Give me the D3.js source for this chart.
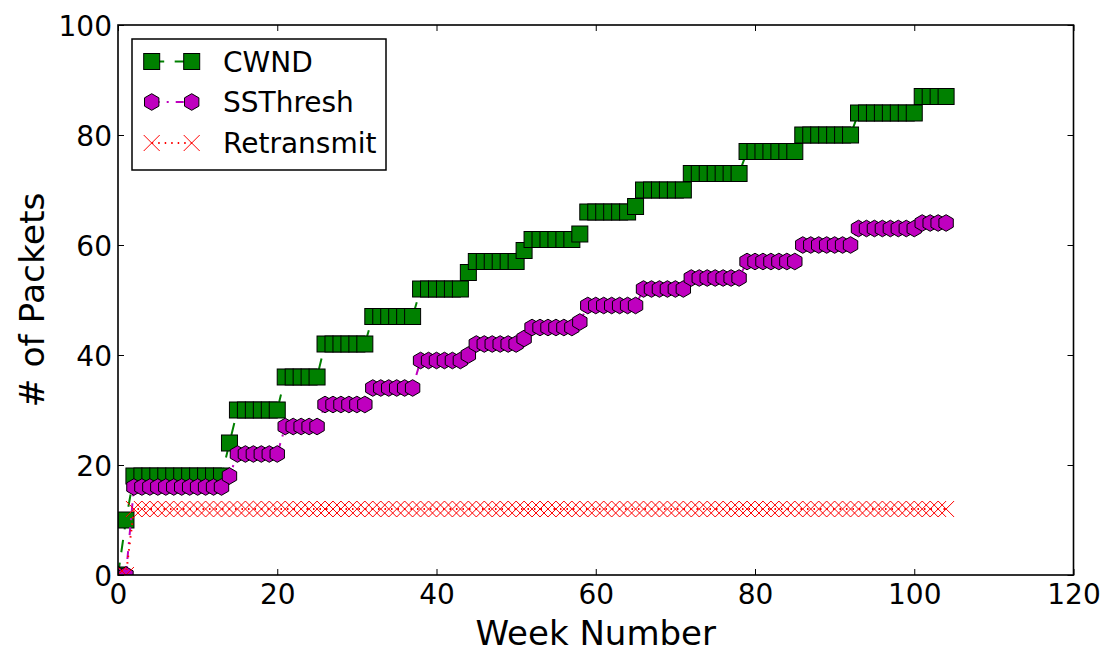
<!DOCTYPE html>
<html>
<head>
<meta charset="utf-8">
<script src="https://cdn.jsdelivr.net/npm/d3@7"></script>
<style>
  html, body { margin: 0; padding: 0; background: #fff; }
  svg { display: block; }
  text { font-family: "DejaVu Sans", sans-serif; fill: #000; }
</style>
</head>
<body>
<svg id="chart" width="1111" height="653"></svg>
<script>
// ---- data ----
const weeks = d3.range(0, 105);
const cwnd = [
  0, 10, 18, 18, 18, 18, 18, 18, 18, 18, 18, 18, 18, 18,
  24, 30, 30, 30, 30, 30, 30,
  36, 36, 36, 36, 36,
  42, 42, 42, 42, 42, 42,
  47, 47, 47, 47, 47, 47,
  52, 52, 52, 52, 52, 52,
  55, 57, 57, 57, 57, 57, 57,
  59, 61, 61, 61, 61, 61, 61,
  62, 66, 66, 66, 66, 66, 66,
  67, 70, 70, 70, 70, 70, 70,
  73, 73, 73, 73, 73, 73, 73,
  77, 77, 77, 77, 77, 77, 77,
  80, 80, 80, 80, 80, 80, 80,
  84, 84, 84, 84, 84, 84, 84, 84,
  87, 87, 87, 87
];
const ssthresh = [
  0, 0, 16, 16, 16, 16, 16, 16, 16, 16, 16, 16, 16, 16,
  18, 22, 22, 22, 22, 22, 22,
  27, 27, 27, 27, 27,
  31, 31, 31, 31, 31, 31,
  34, 34, 34, 34, 34, 34,
  39, 39, 39, 39, 39, 39,
  40, 42, 42, 42, 42, 42, 42,
  43, 45, 45, 45, 45, 45, 45,
  46, 49, 49, 49, 49, 49, 49, 49,
  52, 52, 52, 52, 52, 52,
  54, 54, 54, 54, 54, 54, 54,
  57, 57, 57, 57, 57, 57, 57,
  60, 60, 60, 60, 60, 60, 60,
  63, 63, 63, 63, 63, 63, 63, 63,
  64, 64, 64, 64
];
const retransmit = [
  0, 0,
  12, 12, 12, 12, 12, 12, 12, 12, 12, 12, 12, 12, 12, 12, 12, 12, 12, 12, 12, 12,
  12, 12, 12, 12, 12, 12, 12, 12, 12, 12, 12, 12, 12, 12, 12, 12, 12, 12, 12, 12,
  12, 12, 12, 12, 12, 12, 12, 12, 12, 12, 12, 12, 12, 12, 12, 12, 12, 12, 12, 12,
  12, 12, 12, 12, 12, 12, 12, 12, 12, 12, 12, 12, 12, 12, 12, 12, 12, 12, 12, 12,
  12, 12, 12, 12, 12, 12, 12, 12, 12, 12, 12, 12, 12, 12, 12, 12, 12, 12, 12, 12,
  12, 12, 12
];
const seriesNames = ["CWND", "SSThresh", "Retransmit"];
const xTicks = [0, 20, 40, 60, 80, 100, 120];
const yTicks = [0, 20, 40, 60, 80, 100];
const xLabel = "Week Number";
const yLabel = "# of Packets";

// ---- layout ----
const L = 118, R = 1073.5, T = 25, B = 575;
const svg = d3.select("#chart");
const x = d3.scaleLinear().domain([0, 120]).range([L, R]);
const y = d3.scaleLinear().domain([0, 100]).range([B, T]);

svg.append("defs").append("clipPath").attr("id", "plotclip")
  .append("rect").attr("x", L).attr("y", T).attr("width", R - L).attr("height", B - T);

const MS = 16;
const hexPath = (r) => {
  const c = Math.cos(Math.PI / 6) * r;
  return `M0,${-r}L${-c},${-r/2}L${-c},${r/2}L0,${r}L${c},${r/2}L${c},${-r/2}Z`;
};
const styles = [
  { color: "#008000", dash: "12.5,10.5", marker: "square" },
  { color: "#bf00bf", dash: "8,7,2,7", marker: "hex" },
  { color: "#ff0000", dash: "1.5,5", marker: "x" }
];

function drawMarker(g, kind, cx, cy, color) {
  if (kind === "square") {
    g.append("rect").attr("x", cx - MS/2).attr("y", cy - MS/2)
      .attr("width", MS).attr("height", MS)
      .attr("fill", color).attr("stroke", "#000").attr("stroke-width", 1);
  } else if (kind === "hex") {
    g.append("path").attr("d", hexPath(MS/2 + 0.3)).attr("transform", `translate(${cx},${cy})`)
      .attr("fill", color).attr("stroke", "#000").attr("stroke-width", 1);
  } else {
    const h = MS/2;
    g.append("path").attr("d", `M${-h},${-h}L${h},${h}M${-h},${h}L${h},${-h}`)
      .attr("transform", `translate(${cx},${cy})`)
      .attr("fill", "none").attr("stroke", color).attr("stroke-width", 1);
  }
}

const plot = svg.append("g").attr("clip-path", "url(#plotclip)");
const allSeries = [cwnd, ssthresh, retransmit];
allSeries.forEach((vals, i) => {
  const st = styles[i];
  const g = plot.append("g");
  const line = d3.line().x((d, j) => x(weeks[j])).y(d => y(d));
  g.append("path").datum(vals).attr("d", line)
    .attr("fill", "none").attr("stroke", st.color).attr("stroke-width", 2)
    .attr("stroke-dasharray", st.dash);
  vals.forEach((v, j) => drawMarker(g, st.marker, x(weeks[j]), y(v), st.color));
});

// ---- axes (ticks inward on all four sides) ----
const TS = 6;
const axB = svg.append("g").attr("transform", `translate(0,${B})`)
  .call(d3.axisBottom(x).tickValues(xTicks).tickSize(-TS).tickPadding(9).tickFormat(d3.format("d")));
const axT = svg.append("g").attr("transform", `translate(0,${T})`)
  .call(d3.axisTop(x).tickValues(xTicks).tickSize(-TS).tickFormat(""));
const axLft = svg.append("g").attr("transform", `translate(${L},0)`)
  .call(d3.axisLeft(y).tickValues(yTicks).tickSize(-TS).tickPadding(6).tickFormat(d3.format("d")));
const axRt = svg.append("g").attr("transform", `translate(${R},0)`)
  .call(d3.axisRight(y).tickValues(yTicks).tickSize(-TS).tickFormat(""));
[axB, axT, axLft, axRt].forEach(a => {
  a.select(".domain").remove();
  a.selectAll(".tick line").attr("stroke", "#000").attr("stroke-width", 1);
  a.selectAll(".tick text").style("font-family", "DejaVu Sans").attr("font-size", 28).attr("fill", "#000");
});
axB.selectAll(".tick text").attr("dy", "0.71em");
axLft.selectAll(".tick text").attr("dy", "0.36em");

svg.append("rect").attr("x", L).attr("y", T).attr("width", R - L).attr("height", B - T)
  .attr("fill", "none").attr("stroke", "#000").attr("stroke-width", 1.6);

// ---- axis labels ----
svg.append("text").attr("x", (L + R) / 2).attr("y", 645).attr("text-anchor", "middle")
  .attr("font-size", 34).text(xLabel);
svg.append("text").attr("transform", `translate(44,${(T + B) / 2}) rotate(-90)`)
  .attr("text-anchor", "middle").attr("font-size", 34.5).text(yLabel);

// ---- legend ----
const lg = svg.append("g");
lg.append("rect").attr("x", 132).attr("y", 39).attr("width", 254).attr("height", 131)
  .attr("fill", "#fff").attr("stroke", "#000").attr("stroke-width", 1.5);
const rowsY = [61.5, 102, 143];
seriesNames.forEach((name, i) => {
  const st = styles[i];
  const yy = rowsY[i];
  const g = lg.append("g");
  g.append("line").attr("x1", 151.7).attr("x2", 191.7).attr("y1", yy).attr("y2", yy)
    .attr("stroke", st.color).attr("stroke-width", 2).attr("stroke-dasharray", st.dash);
  drawMarker(g, st.marker, 151.7, yy, st.color);
  drawMarker(g, st.marker, 191.7, yy, st.color);
  g.append("text").attr("x", 223).attr("y", yy + 10).attr("font-size", 28).text(name);
});
</script>
</body>
</html>
